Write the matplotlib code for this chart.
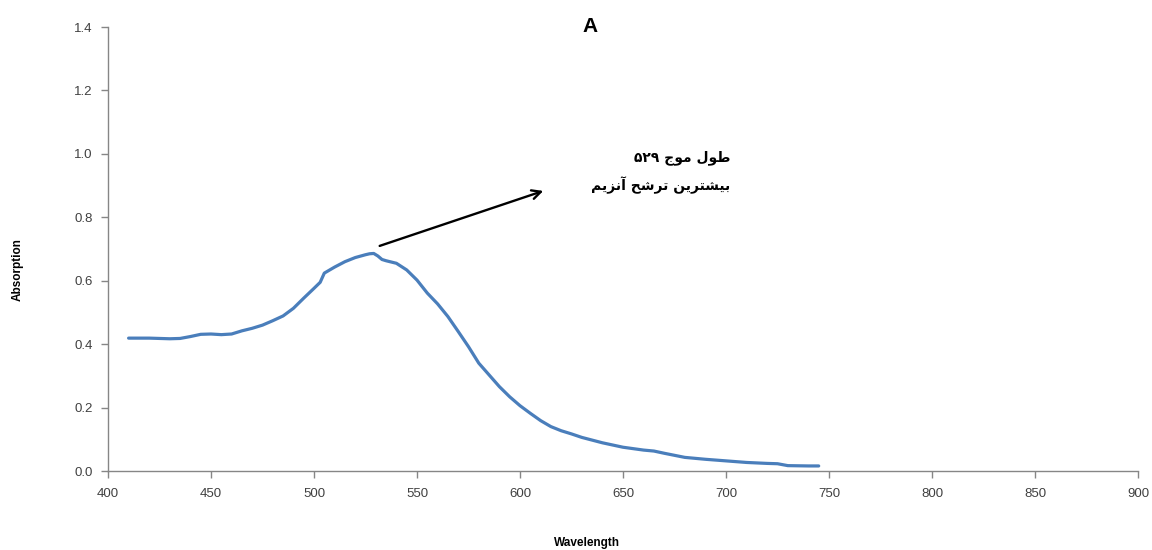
import matplotlib
matplotlib.use("Agg")
import matplotlib.pyplot as plt

wavelength = [410, 420, 430, 435, 440, 445, 450, 455, 460, 465, 470, 475, 480, 485,
              490, 495, 500, 503, 505, 510, 515, 520, 525, 527, 529, 531, 533, 535,
              540, 545, 550, 555, 560, 565, 570, 575, 580, 585, 590, 595, 600, 605,
              610, 615, 620, 625, 630, 640, 650, 660, 665, 670, 680, 690, 700, 710,
              720, 725, 730, 740, 745]
absorption = [0.419, 0.419, 0.417, 0.418, 0.424, 0.431, 0.432, 0.430, 0.432, 0.442,
              0.450, 0.460, 0.474, 0.489, 0.513, 0.545, 0.576, 0.595, 0.624, 0.643,
              0.660, 0.673, 0.682, 0.685, 0.686, 0.678, 0.667, 0.663, 0.655, 0.634,
              0.602, 0.561, 0.527, 0.487, 0.440, 0.392, 0.340, 0.303, 0.266, 0.234,
              0.206, 0.182, 0.159, 0.140, 0.127, 0.117, 0.106, 0.089, 0.075, 0.066,
              0.063, 0.056, 0.043, 0.037, 0.032, 0.027, 0.024, 0.023, 0.017, 0.016,
              0.016]

x_ticks = [400, 450, 500, 550, 600, 650, 700, 750, 800, 850, 900]
y_ticks = [0.0, 0.2, 0.4, 0.6, 0.8, 1.0, 1.2, 1.4]

# Arabic text pre-shaped (presentation forms, visual order) since matplotlib has no shaping
word_tul = "\uFEDD\uFEEE\uFEC3"          # طول
word_mowj = "\uFE9D\uFEEE\uFEE3"         # موج
digits = "\u06F5\u06F2\u06F9"            # ۵۲۹
word_bishtarin = "\uFEE6\uFEF3\uFEAE\uFE98\uFEB8\uFEF4\uFE91"  # بیشترین
word_tarashoh = "\uFEA2\uFEB7\uFEAE\uFE97"                    # ترشح
word_anzim = "\uFEE2\uFEF3\uFEB0\uFEE7\uFE81"                 # آنزیم
annot_line1 = digits + " " + word_mowj + " " + word_tul
annot_line2 = word_anzim + " " + word_tarashoh + " " + word_bishtarin

plt.rcParams['font.family'] = ['Liberation Sans', 'DejaVu Sans']

fig = plt.figure(figsize=(11.52, 5.5), dpi=100)
ax = fig.add_axes([0.09375, 0.1436, 0.8941, 0.8073])

ax.plot(wavelength, absorption, color="#4A7EBB", linewidth=2.3,
        solid_capstyle='round', solid_joinstyle='round')

ax.set_xlim(400, 900)
ax.set_ylim(0, 1.4)
ax.set_xticks(x_ticks)
ax.set_yticks(y_ticks)
ax.set_yticklabels([f"{v:.1f}" for v in y_ticks])
ax.tick_params(axis='both', direction='out', length=5, width=1, colors='#868686',
               labelsize=9.5, labelcolor='#404040')
ax.tick_params(axis='x', pad=7)
ax.tick_params(axis='y', pad=6)

for side in ['top', 'right']:
    ax.spines[side].set_visible(False)
for side in ['left', 'bottom']:
    ax.spines[side].set_color('#868686')
    ax.spines[side].set_linewidth(1)

ax.annotate("", xy=(612.6, 0.886), xytext=(530.6, 0.707),
            arrowprops=dict(arrowstyle='->', color='black', lw=1.7,
                            mutation_scale=16))

ax.text(702, 0.987, annot_line1, ha='right', va='center', fontsize=10,
        fontweight='bold', family=['DejaVu Sans'])
ax.text(702, 0.902, annot_line2, ha='right', va='center', fontsize=10,
        fontweight='bold', family=['DejaVu Sans'])

fig.text(590 / 1152, 1 - 27 / 550, "A", ha='center', va='center', fontsize=15,
         fontweight='bold')
fig.text(18 / 1152, 1 - 270 / 550, "Absorption", rotation=90, ha='center',
         va='center', fontsize=8.5, fontweight='bold')
fig.text(587 / 1152, 1 - 543 / 550, "Wavelength", ha='center', va='center',
         fontsize=8.5, fontweight='bold')

fig.savefig("out.png", dpi=100)
